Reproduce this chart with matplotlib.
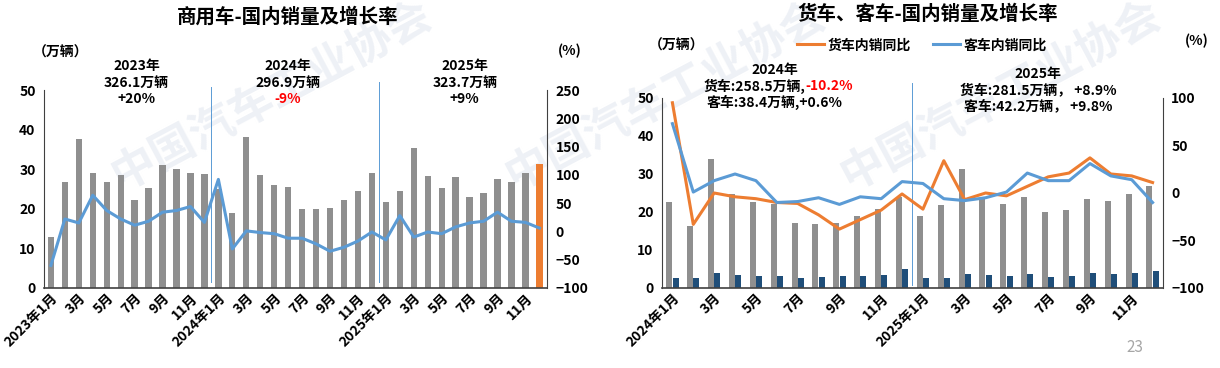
import matplotlib
matplotlib.use("Agg")
import matplotlib.pyplot as plt
import numpy as np

plt.rcParams['font.family'] = ['Noto Sans CJK SC', 'DejaVu Sans']
plt.rcParams['font.weight'] = 'bold'

# ── data: commercial vehicles, 2023-01 .. 2025-12 ──
cv_sales = [13.0, 26.8, 37.6, 29.1, 26.8, 28.6, 22.3, 25.3, 31.1, 30.1, 29.1, 28.8,
            25.0, 19.0, 38.2, 28.6, 26.1, 25.5, 20.0, 20.0, 20.3, 22.3, 24.5, 29.1,
            21.8, 24.5, 35.4, 28.3, 25.3, 28.1, 23.0, 24.0, 27.6, 26.8, 29.1, 31.3]
cv_yoy = [-60, 22, 15, 64, 37, 22, 11, 18, 34, 37, 44, 16,
          92, -31, 1, -2, -4, -12, -12, -22, -35, -28, -17, -1,
          -15, 28, -10, -1, -4, 8, 15, 18, 34, 18, 16, 6]

# ── data: trucks / buses, 2024-01 .. 2025-12 ──
truck_sales = [22.6, 16.3, 34.0, 24.7, 22.6, 22.1, 17.1, 16.8, 17.1, 18.9, 20.8, 23.9,
               18.9, 21.8, 31.3, 23.6, 22.1, 23.9, 20.0, 20.5, 23.4, 22.9, 24.7, 26.9]
bus_sales = [2.5, 2.6, 4.0, 3.4, 3.1, 3.1, 2.6, 2.8, 3.1, 3.1, 3.5, 4.9,
             2.7, 2.5, 3.8, 3.3, 3.1, 3.8, 3.0, 3.2, 4.0, 3.8, 3.9, 4.6]
truck_yoy = [95, -33, 0, -4, -6, -10, -11, -23, -38, -28, -18, -1,
             -17, 34, -7, 0, -3, 7, 17, 21, 37, 20, 18, 11]
bus_yoy = [73, 1, 13, 20, 13, -10, -9, -5, -12, -4, -6, 12,
           10, -6, -8, -5, 1, 21, 13, 13, 31, 18, 14, -10]


def month_labels(start_year, n):
    labels = []
    for i in range(n):
        y, m = start_year + i // 12, i % 12 + 1
        if m % 2 == 0:
            continue
        labels.append((i, f"{y}年{m}月" if m == 1 else f"{m}月"))
    return labels


GRAY = "#8f8f8f"
ORANGE = "#ed7d31"
BLUE = "#5b9bd5"
NAVY = "#1f4e79"
SPINE = "#404040"

fig = plt.figure(figsize=(12.2, 3.68), dpi=100)


def style_axes(ax, ax2):
    for a in (ax, ax2):
        a.spines["top"].set_visible(False)
        a.spines["left"].set_color(SPINE)
        a.spines["right"].set_color(SPINE)
        a.spines["bottom"].set_color(SPINE)
        a.spines["bottom"].set_linewidth(1.2)
        a.tick_params(length=0, labelsize=10, pad=6)
    ax2.spines["left"].set_visible(False)
    ax2.spines["bottom"].set_visible(False)
    ax.spines["right"].set_visible(False)


# faint background watermark
for wx, wy in [(0.222, 0.74), (0.545, 0.74), (0.82, 0.74)]:
    fig.text(wx, wy, "中国汽车工业协会", fontsize=32, color="#eef1f6",
             rotation=28, ha="center", va="center", zorder=-5)

# ── left panel ──
n1 = len(cv_sales)
x1 = np.arange(n1)
ax = fig.add_axes([0.036, 0.2174, 0.4124, 0.538])
ax.patch.set_alpha(0)
colors = [GRAY] * (n1 - 1) + [ORANGE]
ax.bar(x1, cv_sales, width=0.45, color=colors, zorder=2)
ax.set_ylim(0, 50)
ax.set_yticks(range(0, 51, 10))
ax.set_xlim(-0.5, n1 - 0.45)
ticks = month_labels(2023, n1)
ax.set_xticks([t for t, _ in ticks])
ax.set_xticklabels([l for _, l in ticks], rotation=45, ha="right",
                   rotation_mode="anchor", fontsize=9.5)
ax2 = ax.twinx()
ax2.plot(x1, cv_yoy, color=BLUE, linewidth=2.2, zorder=3)
ax2.set_ylim(-100, 250)
ax2.set_yticks(range(-100, 251, 50))
style_axes(ax, ax2)
ax.tick_params(axis="x", pad=2)
for xv, top in [(11.5, 1.015), (23.5, 1.04)]:
    ax.axvline(xv, ymin=0.03, ymax=top, color=BLUE, linewidth=0.7, clip_on=False)

fig.text(0.236, 0.955, "商用车-国内销量及增长率", fontsize=14, ha="center", va="center")
fig.text(0.027, 0.857, "（万辆）", fontsize=10, ha="left", va="center")
fig.text(0.457, 0.862, "(%)", fontsize=10, ha="left", va="center")

for cx, lines in [(0.112, [("2023年", "black"), ("326.1万辆", "black"), ("+20%", "black")]),
                  (0.236, [("2024年", "black"), ("296.9万辆", "black"), ("-9%", "red")]),
                  (0.381, [("2025年", "black"), ("323.7万辆", "black"), ("+9%", "black")])]:
    for k, (s, c) in enumerate(lines):
        fig.text(cx, 0.82 - k * 0.045, s, fontsize=10, color=c, ha="center", va="center")

# ── right panel ──
n2 = len(truck_sales)
x2 = np.arange(n2)
bx = fig.add_axes([0.5426, 0.2174, 0.4107, 0.5163])
bx.patch.set_alpha(0)
bx.bar(x2 - 0.15, truck_sales, width=0.29, color=GRAY, zorder=2)
bx.bar(x2 + 0.15, bus_sales, width=0.29, color=NAVY, zorder=2)
bx.set_ylim(0, 50)
bx.set_yticks(range(0, 51, 10))
bx.set_xlim(-0.5, n2 - 0.5)
ticks = month_labels(2024, n2)
bx.set_xticks([t for t, _ in ticks])
bx.set_xticklabels([l for _, l in ticks], rotation=45, ha="right",
                   rotation_mode="anchor", fontsize=9.5)
bx2 = bx.twinx()
bx2.plot(x2, truck_yoy, color=ORANGE, linewidth=2.2, zorder=3, label="货车内销同比")
bx2.plot(x2, bus_yoy, color=BLUE, linewidth=2.2, zorder=3, label="客车内销同比")
bx2.set_ylim(-100, 100)
bx2.set_yticks(range(-100, 101, 50))
style_axes(bx, bx2)
bx.tick_params(axis="x", pad=2)
bx.axvline(11.5, ymin=0.015, ymax=1.08, color=BLUE, linewidth=0.7, clip_on=False)

bx2.legend(loc="center", bbox_to_anchor=(0.756, 0.877), bbox_transform=fig.transFigure,
           ncol=2, frameon=False, fontsize=10, handlelength=1.9, handletextpad=0.3,
           columnspacing=1.6)

fig.text(0.760, 0.96, "货车、客车-国内销量及增长率", fontsize=14, ha="center", va="center")
fig.text(0.532, 0.877, "（万辆）", fontsize=10, ha="left", va="center")
fig.text(0.971, 0.89, "(%)", fontsize=10, ha="left", va="center")

fig.text(0.635, 0.81, "2024年", fontsize=10, ha="center", va="center")
t1 = fig.text(0.577, 0.765, "货车:258.5万辆,", fontsize=10, ha="left", va="center")
fig.text(1.0, 0.5, "-10.2%", fontsize=10, color="red", ha="left", va="center",
         transform=t1.get_transform())
fig.canvas.draw()
bb = t1.get_window_extent()
fig.texts[-1].set_position((bb.x1 / fig.bbox.width, 0.765))
fig.texts[-1].set_transform(fig.transFigure)
fig.text(0.635, 0.722, "客车:38.4万辆,+0.6%", fontsize=10, ha="center", va="center")

fig.text(0.851, 0.80, "2025年", fontsize=10, ha="center", va="center")
fig.text(0.851, 0.755, "货车:281.5万辆， +8.9%", fontsize=10, ha="center", va="center")
fig.text(0.851, 0.712, "客车:42.2万辆， +9.8%", fontsize=10, ha="center", va="center")

fig.text(0.930, 0.057, "23", fontsize=11, color="#a6a6a6", ha="center", va="center",
         fontweight="normal")

fig.savefig("out.png", dpi=100)
